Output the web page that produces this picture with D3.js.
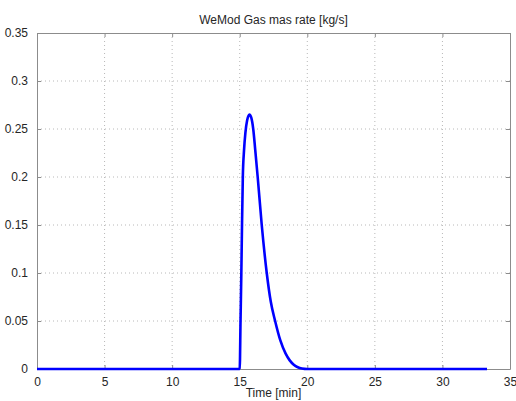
<!DOCTYPE html>
<meta charset="utf-8">
<style>
  body { margin: 0; background: #fff; }
  text { font-family: "Liberation Sans", Arial, sans-serif; fill: #262626; }
  .grid line { stroke: #b8b8b8; stroke-dasharray: 1,3; }
</style>
<svg width="516" height="401"></svg>
<script src="https://d3js.org/d3.v7.min.js"></script>
<script>
  // time [min]
  var time = [0, 15.0, 15.06, 15.12, 15.17, 15.23, 15.32, 15.42, 15.55, 15.72, 15.85, 16.0, 16.15, 16.33,
    16.63, 17.0, 17.3, 17.62, 18.0, 18.4, 18.7, 19.0, 19.3, 19.6, 20.0, 33.3];
  // gas mass rate [kg/s]
  var rate = [0, 0, 0.05, 0.1, 0.15, 0.2, 0.228, 0.246, 0.259, 0.265, 0.262, 0.25, 0.228, 0.2,
    0.15, 0.1, 0.07, 0.05, 0.03, 0.016, 0.009, 0.0045, 0.0018, 0.0005, 0, 0];
  var xTicks = [0, 5, 10, 15, 20, 25, 30, 35];
  var yTicks = [0, 0.05, 0.1, 0.15, 0.2, 0.25, 0.3, 0.35];

  var svg = d3.select("svg"),
      pLeft = 37, pRight = 510, pTop = 33, pBottom = 369;

  var x = d3.scaleLinear().domain([0, 35]).range([pLeft, pRight]);
  var y = d3.scaleLinear().domain([0, 0.35]).range([pBottom, pTop]);

  var g = svg.append("g").attr("class", "grid");
  g.selectAll(".gx").data(xTicks.slice(1, -1)).enter().append("line")
    .attr("x1", function(d) { return x(d); }).attr("x2", function(d) { return x(d); })
    .attr("y1", pTop).attr("y2", pBottom);
  g.selectAll(".gy").data(yTicks.slice(1, -1)).enter().append("line")
    .attr("y1", function(d) { return y(d); }).attr("y2", function(d) { return y(d); })
    .attr("x1", pLeft).attr("x2", pRight);

  // axes with inward ticks
  function style(a) {
    a.select(".domain").attr("stroke", "#8c8c8c");
    a.selectAll(".tick line").attr("stroke", "#8c8c8c");
    a.selectAll("text").style("font-size", "12px").attr("fill", "#262626");
  }
  svg.append("g").attr("transform", "translate(0," + pBottom + ")")
    .call(d3.axisBottom(x).tickValues(xTicks).tickSizeInner(-4).tickSizeOuter(0).tickPadding(8))
    .call(style);
  svg.append("g").attr("transform", "translate(0," + pTop + ")")
    .call(d3.axisTop(x).tickValues(xTicks).tickSizeInner(-4).tickSizeOuter(0).tickFormat(""))
    .call(style);
  svg.append("g").attr("transform", "translate(" + pLeft + ",0)")
    .call(d3.axisLeft(y).tickValues(yTicks).tickSizeInner(-4).tickSizeOuter(0).tickPadding(9)
      .tickFormat(function(d) { return d3.format("~g")(d); }))
    .call(style);
  svg.append("g").attr("transform", "translate(" + pRight + ",0)")
    .call(d3.axisRight(y).tickValues(yTicks).tickSizeInner(-4).tickSizeOuter(0).tickFormat(""))
    .call(style);

  var pts = time.map(function(t, i) { return [t, rate[i]]; });
  svg.append("path").datum(pts)
    .attr("fill", "none").attr("stroke", "#0000ff").attr("stroke-width", 2.6)
    .attr("stroke-linejoin", "round")
    .attr("d", d3.line().x(function(d) { return x(d[0]); }).y(function(d) { return y(d[1]); })
      .curve(d3.curveMonotoneX));

  svg.append("text").attr("x", (pLeft + pRight) / 2).attr("y", 24)
    .attr("text-anchor", "middle").style("font-size", "12px").text("WeMod Gas mas rate [kg/s]");
  svg.append("text").attr("x", (pLeft + pRight) / 2).attr("y", 397)
    .attr("text-anchor", "middle").style("font-size", "12px").text("Time [min]");
</script>
